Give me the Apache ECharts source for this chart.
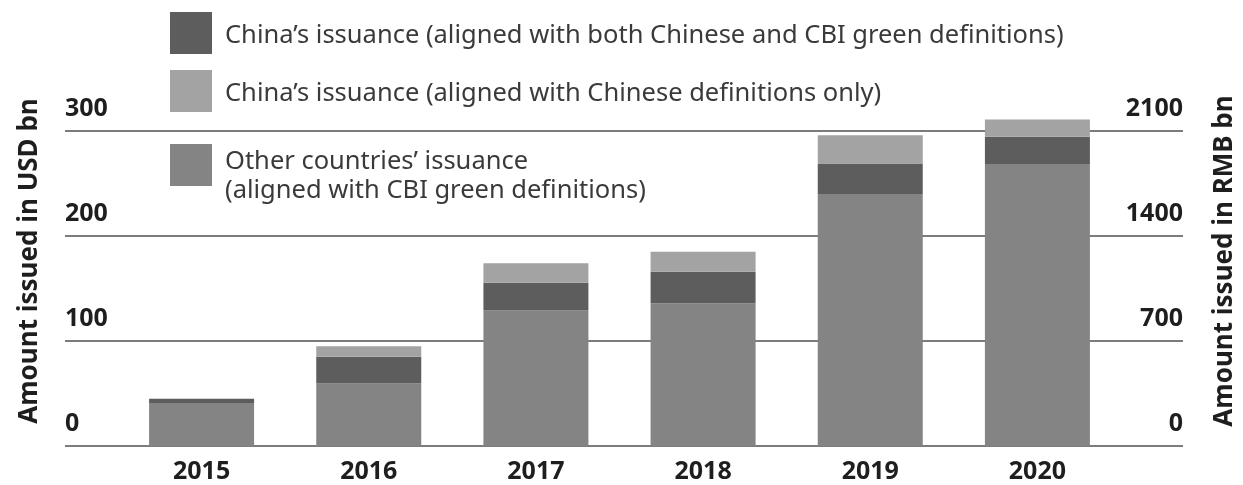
<!DOCTYPE html>
<html>
<head>
<meta charset="utf-8">
<script src="https://cdn.jsdelivr.net/npm/echarts@6/dist/echarts.min.js"></script>
<style>
html,body{margin:0;padding:0;background:#fff;}
#chart{width:1243px;height:485px;}
</style>
</head>
<body>
<div id="chart"></div>
<script>
const categories = ['2015', '2016', '2017', '2018', '2019', '2020'];
const otherCountries = [41, 59.5, 129, 136, 240, 268.5];
const chinaBoth = [4, 25.5, 26.5, 30, 29, 26];
const chinaChineseOnly = [0, 10, 18.5, 19, 27, 16.5];
const usdTicks = [0, 100, 200, 300];
const rmbTicks = [0, 700, 1400, 2100];

const seriesNames = [
  "China\u2019s issuance (aligned with both Chinese and CBI green definitions)",
  "China\u2019s issuance (aligned with Chinese definitions only)",
  "Other countries\u2019 issuance"
];
const otherLabelLines = ["Other countries\u2019 issuance", "(aligned with CBI green definitions)"];

const COL_DARK = '#5d5d5d', COL_LIGHT = '#a3a3a3', COL_MID = '#848484';
const FONT = '"Noto Sans", "Open Sans", sans-serif';

const chart = echarts.init(document.getElementById('chart'), null, {renderer: 'canvas'});

const gridTop = 131, gridBottom = 39;
const richText = {
  t: {fontFamily: FONT, fontSize: 25.5, color: '#3a3a3a', padding: [6, 0, 0, 8], lineHeight: 29},
  u: {fontFamily: FONT, fontSize: 25.5, color: '#3a3a3a', padding: [0, 0, 0, 8], lineHeight: 29},
  s: {fontFamily: FONT, fontSize: 10, lineHeight: 22}
};
const legendCommon = {
  orient: 'vertical', left: 165, itemWidth: 42, itemHeight: 42, icon: 'rect',
  selectedMode: false,
  textStyle: {fontFamily: FONT, fontSize: 25.5, color: '#3a3a3a', rich: richText}
};

const option = {
  backgroundColor: '#fff',
  animation: false,
  legend: [
    Object.assign({}, legendCommon, {top: 7, data: [seriesNames[0]], formatter: n => '{t|' + n + '}'}),
    Object.assign({}, legendCommon, {top: 65, data: [seriesNames[1]], formatter: n => '{t|' + n + '}'}),
    Object.assign({}, legendCommon, {top: 126, data: [seriesNames[2]],
      formatter: () => '{s| }\n{u|' + otherLabelLines[0] + '}\n{u|' + otherLabelLines[1] + '}'})
  ],
  grid: [
    {left: 65, right: 60, top: gridTop, bottom: gridBottom, containLabel: false},
    {left: 118, right: 122, top: gridTop, bottom: gridBottom, containLabel: false}
  ],
  xAxis: [
    {type: 'value', gridIndex: 0, show: false, min: 0, max: 1},
    {type: 'category', gridIndex: 1, data: categories,
      axisLine: {show: false}, axisTick: {show: false},
      axisLabel: {fontFamily: FONT, fontSize: 25, fontWeight: 'bold', color: '#1e1e1e', margin: 13}}
  ],
  yAxis: [
    {type: 'value', gridIndex: 0, min: 0, max: 300, interval: 100, position: 'left',
      axisLine: {show: false}, axisTick: {show: false},
      splitLine: {show: true, lineStyle: {color: '#7c7c7c', width: 2}},
      axisLabel: {inside: true, align: 'left', verticalAlign: 'bottom', margin: 0,
        padding: [0, 0, 10, 0], fontFamily: FONT, fontSize: 25, fontWeight: 'bold', color: '#1e1e1e',
        formatter: v => usdTicks.includes(v) ? String(v) : ''}},
    {type: 'value', gridIndex: 0, min: 0, max: 2100, interval: 700, position: 'right',
      axisLine: {show: false}, axisTick: {show: false}, splitLine: {show: false},
      axisLabel: {inside: true, align: 'right', verticalAlign: 'bottom', margin: 0,
        padding: [0, 0, 10, 0], fontFamily: FONT, fontSize: 25, fontWeight: 'bold', color: '#1e1e1e',
        formatter: v => rmbTicks.includes(v) ? String(v) : ''}},
    {type: 'value', gridIndex: 1, min: 0, max: 300, interval: 100, show: false}
  ],
  graphic: [
    {type: 'text', x: 30, y: 261, rotation: Math.PI / 2,
      style: {text: 'Amount issued in USD bn', fontFamily: FONT, fontSize: 26, fontWeight: 'bold',
        fill: '#1e1e1e', align: 'center', verticalAlign: 'middle'}},
    {type: 'text', x: 1225, y: 261, rotation: Math.PI / 2,
      style: {text: 'Amount issued in RMB bn', fontFamily: FONT, fontSize: 26, fontWeight: 'bold',
        fill: '#1e1e1e', align: 'center', verticalAlign: 'middle'}}
  ],
  series: [
    {name: seriesNames[2], type: 'bar', xAxisIndex: 1, yAxisIndex: 2, stack: 'a', data: otherCountries,
      barWidth: 105, clip: false, itemStyle: {color: COL_MID}},
    {name: seriesNames[0], type: 'bar', xAxisIndex: 1, yAxisIndex: 2, stack: 'a', data: chinaBoth,
      barWidth: 105, clip: false, itemStyle: {color: COL_DARK}},
    {name: seriesNames[1], type: 'bar', xAxisIndex: 1, yAxisIndex: 2, stack: 'a', data: chinaChineseOnly,
      barWidth: 105, clip: false, itemStyle: {color: COL_LIGHT}}
  ]
};
chart.setOption(option);
</script>
</body>
</html>
